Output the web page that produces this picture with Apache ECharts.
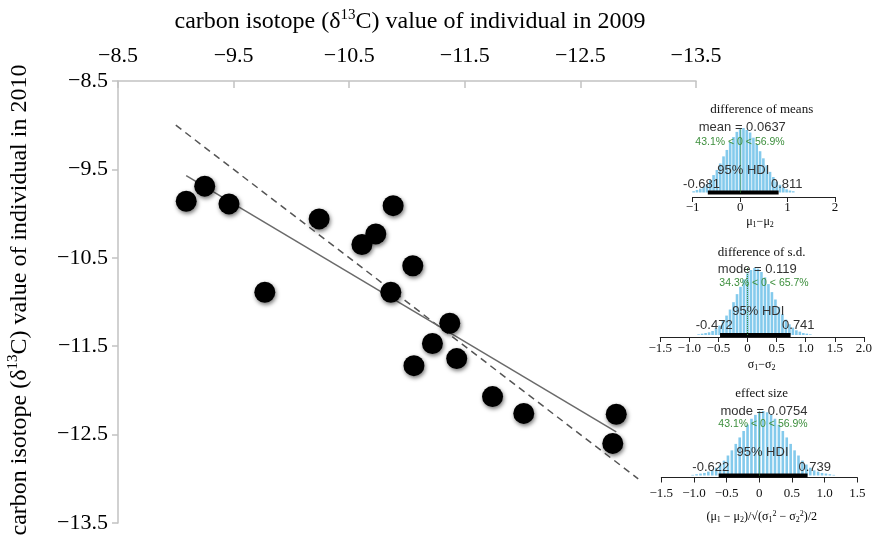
<!DOCTYPE html>
<html><head><meta charset="utf-8">
<script src="https://cdn.jsdelivr.net/npm/echarts@6/dist/echarts.min.js"></script>
<style>html,body{margin:0;padding:0;background:#fff}#c{width:875px;height:539px}</style>
</head><body><div id="c"></div>
<script>
// main scatter data (carbon isotope values)
const x2009 = [-9.09,-9.25,-9.46,-9.77,-10.24,-10.61,-10.73,-10.88,-11.05,-10.86,-11.37,-11.22,-11.06,-11.43,-11.74,-12.01,-12.81,-12.78];
const y2010 = [-9.86,-9.69,-9.89,-10.89,-10.06,-10.35,-10.23,-9.91,-10.59,-10.89,-11.24,-11.47,-11.72,-11.64,-12.07,-12.26,-12.27,-12.60];
const fitX = [-9.09, -12.81];
const fitY = [-9.57, -12.47];
const refX = [-9.0, -13.0];
const refY = [-9.0, -13.0];
const mainTicks = [-8.5, -9.5, -10.5, -11.5, -12.5, -13.5];

// inset 1: difference of means
const h1Bins = [-0.98,-0.91,-0.84,-0.77,-0.70,-0.63,-0.56,-0.49,-0.42,-0.35,-0.28,-0.21,-0.14,-0.07,0.00,0.07,0.14,0.21,0.28,0.35,0.42,0.49,0.56,0.63,0.70,0.77,0.84,0.91,0.98,1.05,1.12];
const h1Counts = [2,4,6,9,13,19,27,35,45,56,66,78,86,94,98,100,97,93,85,75,64,53,42,32,24,17,12,8,5,3,2];
const h1Hdi = [-0.681, 0.811];
const h1Ticks = [-1, 0, 1, 2];
// inset 2: difference of s.d.
const h2Bins = [-0.84,-0.78,-0.72,-0.66,-0.60,-0.54,-0.48,-0.42,-0.36,-0.30,-0.24,-0.18,-0.12,-0.06,0.00,0.06,0.12,0.18,0.24,0.30,0.36,0.42,0.48,0.54,0.60,0.66,0.72,0.78,0.84,0.90,0.96,1.02,1.08];
const h2Counts = [1,2,3,4,6,10,14,21,29,38,49,61,72,83,92,97,100,99,94,86,76,64,53,42,31,23,16,11,7,5,3,2,1];
const h2Hdi = [-0.472, 0.741];
const h2Ticks = [-1.5,-1.0,-0.5,0,0.5,1.0,1.5,2.0];
// inset 3: effect size
const h3Bins = [-1.02,-0.96,-0.90,-0.84,-0.78,-0.72,-0.66,-0.60,-0.54,-0.48,-0.42,-0.36,-0.30,-0.24,-0.18,-0.12,-0.06,0.00,0.06,0.12,0.18,0.24,0.30,0.36,0.42,0.48,0.54,0.60,0.66,0.72,0.78,0.84,0.90,0.96,1.02,1.08,1.14];
const h3Counts = [1,2,3,4,6,8,12,17,23,31,39,49,59,69,79,88,94,99,100,98,94,88,79,69,59,49,39,31,23,17,12,8,6,4,3,2,1];
const h3Hdi = [-0.622, 0.739];
const h3Ticks = [-1.5,-1.0,-0.5,0,0.5,1.0,1.5];

const SERIF = '"Liberation Serif","DejaVu Serif",serif';
const SANS = '"Liberation Sans",Arial,sans-serif';
const minus = s => String(s).replace('-', '\u2212');
const fmt1 = v => v === 0 ? '0' : minus(v.toFixed(1));
const fmt0 = v => minus(String(v));

const chart = echarts.init(document.getElementById('c'));
const zip = (a, b) => a.map((v, i) => [v, b[i]]);

function insetX(idx, min, max, ticks, fmt, offset, margin) {
  return {
    type: 'value', gridIndex: idx, min, max, position: 'bottom', offset,
    axisLine: { show: true, onZero: false, lineStyle: { color: '#222', width: 1 } },
    axisTick: { show: true, length: 5, customValues: ticks, lineStyle: { color: '#222' } },
    axisLabel: { customValues: ticks, formatter: fmt, fontFamily: SERIF, fontSize: 13, color: '#111', margin },
    splitLine: { show: false }
  };
}
function insetY(idx) {
  return { type: 'value', gridIndex: idx, min: 0, max: 100, show: false };
}
function histSeries(idx, bins, counts) {
  return {
    type: 'bar', xAxisIndex: idx, yAxisIndex: idx, data: zip(bins, counts), barWidth: 2.6,
    itemStyle: { color: '#84caec' }, silent: true, z: 2,
    markLine: { silent: true, symbol: 'none', label: { show: false },
      lineStyle: { type: 'dotted', color: '#3d8f3d', width: 1 }, data: [{ xAxis: 0 }] }
  };
}
function hdiSeries(idx, hdi) {
  return {
    type: 'line', xAxisIndex: idx, yAxisIndex: idx, data: [[hdi[0], 0], [hdi[1], 0]],
    symbol: 'none', clip: false, silent: true, z: 4,
    lineStyle: { color: '#000', width: 4 }
  };
}
function txt(x, y, text, size, color, font) {
  return { type: 'text', x, y, silent: true, z: 10,
    style: { text, fontSize: size, fill: color, fontFamily: font, align: 'center', verticalAlign: 'middle' } };
}
function richTxt(x, y, text, rich, rotation) {
  return { type: 'text', x, y, rotation: rotation || 0, silent: true, z: 10,
    style: { text, rich, align: 'center', verticalAlign: 'middle', fill: '#000' } };
}

const bigRich = {
  n: { fontFamily: SERIF, fontSize: 24, color: '#000', lineHeight: 28 },
  sup: { fontFamily: SERIF, fontSize: 15, color: '#000', lineHeight: 14, verticalAlign: 'top' }
};
const smallRich = {
  n: { fontFamily: SERIF, fontSize: 12, color: '#111', lineHeight: 14 },
  sub: { fontFamily: SERIF, fontSize: 8, color: '#111', lineHeight: 8, verticalAlign: 'bottom' },
  sup: { fontFamily: SERIF, fontSize: 8, color: '#111', lineHeight: 8, verticalAlign: 'top' }
};

const option = {
  animation: false,
  backgroundColor: '#fff',
  grid: [
    { left: 118, top: 81, width: 578, height: 442 },
    { left: 692.7, top: 128, width: 142.3, height: 64.5 },
    { left: 660.2, top: 268, width: 211.8, height: 67 },
    { left: 661.3, top: 411, width: 196, height: 64.5 }
  ],
  xAxis: [
    {
      type: 'value', gridIndex: 0, position: 'top', inverse: true, min: -13.5, max: -8.5,
      axisLine: { show: true, onZero: false, lineStyle: { color: '#c2c2c2', width: 1.5 } },
      axisTick: { show: true, inside: true, length: 7, customValues: mainTicks, lineStyle: { color: '#c2c2c2', width: 1.5 } },
      axisLabel: { customValues: mainTicks, formatter: fmt1, fontFamily: SERIF, fontSize: 22, color: '#000', margin: 14 },
      splitLine: { show: false }
    },
    insetX(1, -1, 2, h1Ticks, fmt0, 4.5, 4),
    insetX(2, -1.5, 2.0, h2Ticks, fmt1, 2, 5),
    insetX(3, -1.5, 1.5, h3Ticks, fmt1, 2, 10)
  ],
  yAxis: [
    {
      type: 'value', gridIndex: 0, min: -13.5, max: -8.5,
      axisLine: { show: true, onZero: false, lineStyle: { color: '#c2c2c2', width: 1.5 } },
      axisTick: { show: true, length: 6, customValues: mainTicks, lineStyle: { color: '#c2c2c2', width: 1.5 } },
      axisLabel: { customValues: mainTicks, formatter: fmt1, fontFamily: SERIF, fontSize: 22, color: '#000', margin: 10 },
      splitLine: { show: false }
    },
    insetY(1), insetY(2), insetY(3)
  ],
  series: [
    { type: 'line', xAxisIndex: 0, yAxisIndex: 0, data: zip(refX, refY), symbol: 'none', silent: true, z: 2,
      lineStyle: { color: '#555', width: 1.5, type: [7, 5] } },
    { type: 'line', xAxisIndex: 0, yAxisIndex: 0, data: zip(fitX, fitY), symbol: 'none', silent: true, z: 2,
      lineStyle: { color: '#6a6a6a', width: 1.5 } },
    { type: 'scatter', xAxisIndex: 0, yAxisIndex: 0, data: zip(x2009, y2010), symbolSize: 21, z: 3,
      itemStyle: { color: '#000', opacity: 1, shadowBlur: 4, shadowColor: 'rgba(0,0,0,0.55)', shadowOffsetX: 1, shadowOffsetY: 2 } },
    histSeries(1, h1Bins, h1Counts), hdiSeries(1, h1Hdi),
    histSeries(2, h2Bins, h2Counts), hdiSeries(2, h2Hdi),
    histSeries(3, h3Bins, h3Counts), hdiSeries(3, h3Hdi)
  ],
  graphic: [
    richTxt(410, 22, '{n|carbon isotope (δ}{sup|13}{n|C) value of individual in 2009}', bigRich),
    richTxt(20, 300, '{n|carbon isotope (δ}{sup|13}{n|C) value of individual in 2010}', bigRich, Math.PI / 2),

    txt(761.7, 110, 'difference of means', 13, '#111', SERIF),
    txt(742.3, 127, 'mean = 0.0637', 13, '#333', SANS),
    txt(740, 142, '43.1% < 0 < 56.9%', 10.5, '#3d8f3d', SANS),
    txt(743.3, 170, '95% HDI', 13, '#333', SANS),
    txt(701.5, 184, '-0.681', 13, '#333', SANS),
    txt(786.7, 184, '0.811', 13, '#333', SANS),
    richTxt(760, 221.7, '{n|μ}{sub|1}{n|−μ}{sub|2}', smallRich),

    txt(761.7, 252.7, 'difference of s.d.', 13, '#111', SERIF),
    txt(757.3, 269.3, 'mode = 0.119', 13, '#333', SANS),
    txt(764, 283.3, '34.3% < 0 < 65.7%', 10.5, '#3d8f3d', SANS),
    txt(758.3, 311.7, '95% HDI', 13, '#333', SANS),
    txt(714.2, 325.7, '-0.472', 13, '#333', SANS),
    txt(798.3, 325.7, '0.741', 13, '#333', SANS),
    richTxt(761.7, 365, '{n|σ}{sub|1}{n|−σ}{sub|2}', smallRich),

    txt(761.7, 393.3, 'effect size', 13, '#111', SERIF),
    txt(764, 411, 'mode = 0.0754', 13, '#333', SANS),
    txt(763, 424.3, '43.1% < 0 < 56.9%', 10.5, '#3d8f3d', SANS),
    txt(762.5, 452.7, '95% HDI', 13, '#333', SANS),
    txt(710.8, 467.3, '-0.622', 13, '#333', SANS),
    txt(814.7, 467.3, '0.739', 13, '#333', SANS),
    richTxt(761.7, 516.7, '{n|(μ}{sub|1}{n| − μ}{sub|2}{n|)/√(σ}{sub|1}{sup|2}{n| − σ}{sub|2}{sup|2}{n|)/2}', smallRich)
  ]
};
chart.setOption(option);
</script>
</body></html>
